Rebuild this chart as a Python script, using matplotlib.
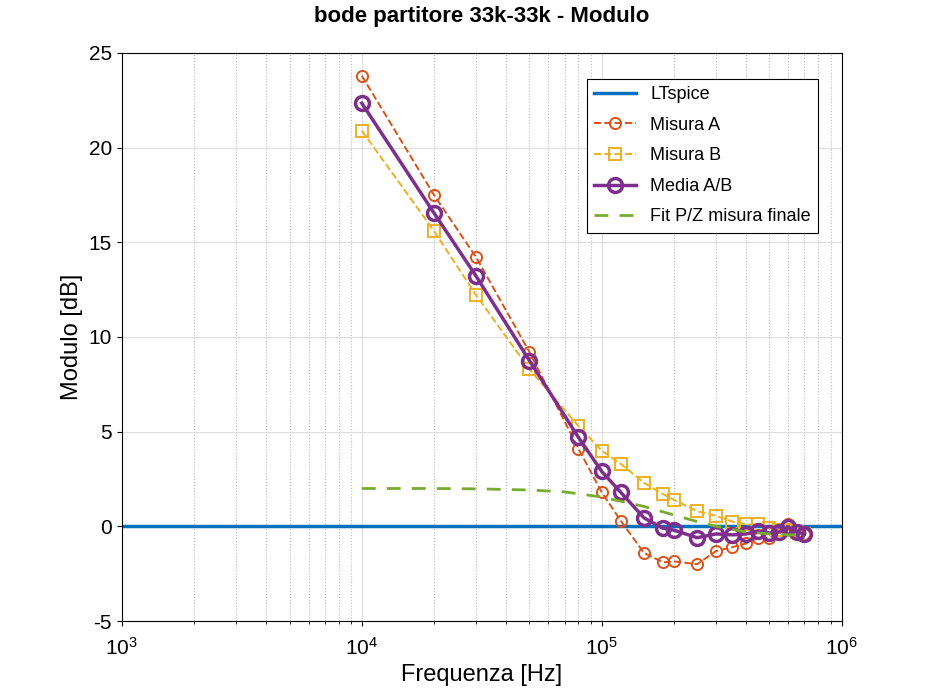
import matplotlib
matplotlib.use("Agg")
import matplotlib.pyplot as plt
import numpy as np

plt.rcParams['font.family'] = ['Liberation Sans', 'DejaVu Sans']
plt.rcParams['axes.unicode_minus'] = False

freq = [10e3, 20e3, 30e3, 50e3, 80e3, 100e3, 120e3, 150e3, 180e3, 200e3, 250e3, 300e3,
        350e3, 400e3, 450e3, 500e3, 550e3, 600e3, 650e3, 700e3]
mis_a = [23.8, 17.5, 14.2, 9.2, 4.1, 1.8, 0.3, -1.4, -1.9, -1.85, -2.0, -1.3,
         -1.1, -0.9, -0.6, -0.6, -0.4, 0.1, -0.3, -0.4]
mis_b = [20.9, 15.6, 12.2, 8.3, 5.3, 4.0, 3.3, 2.3, 1.7, 1.4, 0.8, 0.55,
         0.25, 0.1, 0.1, -0.1, -0.2, -0.2, -0.3, -0.4]
media = [22.35, 16.55, 13.2, 8.75, 4.7, 2.9, 1.8, 0.45, -0.1, -0.2, -0.6, -0.4,
         -0.45, -0.4, -0.25, -0.35, -0.3, -0.05, -0.3, -0.4]
fit_f = [10e3, 20e3, 30e3, 50e3, 70e3, 100e3, 150e3, 200e3, 250e3, 300e3, 400e3, 500e3, 600e3, 700e3]
fit_v = [2.0, 2.0, 1.98, 1.92, 1.82, 1.55, 1.05, 0.6, 0.25, 0.0, -0.3, -0.4, -0.45, -0.45]
lt_f = [1e3, 1e6]
lt_v = [0, 0]

fig = plt.figure(figsize=(9.3, 6.97), dpi=100)
ax = fig.add_axes([0.131, 0.109, 0.774, 0.815])
ax.semilogx(lt_f, lt_v, color='#0072BD', lw=2.5, label='LTspice')
ax.semilogx(freq, mis_a, '--o', color='#D95319', lw=1.4, ms=8, mfc='none', mew=1.4, label='Misura A')
ax.semilogx(freq, mis_b, '--s', color='#EDB120', lw=1.4, ms=8, mfc='none', mew=1.4, label='Misura B')
ax.semilogx(freq, media, '-o', color='#7E2F8E', lw=2.5, ms=10, mfc='none', mew=2.5, label='Media A/B')
ax.semilogx(fit_f, fit_v, '--', color='#77AC30', lw=2, dashes=(5, 4), label='Fit P/Z misura finale')
ax.set_xlim(1e3, 1e6)
ax.set_ylim(-5, 25)
ax.set_yticks(range(-5, 26, 5))
ax.grid(True, which='major', color='#dddddd', lw=0.8)
ax.grid(True, which='minor', axis='x', color='#bbbbbb', ls=':', lw=0.8)
ax.tick_params(labelsize=15, direction='out', which='both')
ax.tick_params(axis='x', pad=8)
ax.set_xlabel('Frequenza [Hz]', fontsize=17)
ax.set_ylabel('Modulo [dB]', fontsize=17)
ax.set_title('bode partitore 33k-33k - Modulo', fontsize=16, fontweight='bold', pad=22)
leg = ax.legend(loc='upper right', bbox_to_anchor=(0.98, 0.97), fontsize=13, fancybox=False,
                edgecolor='black', framealpha=1, handlelength=2.3, labelspacing=0.75)
leg.get_frame().set_linewidth(0.8)
fig.savefig('out.png', dpi=100)
